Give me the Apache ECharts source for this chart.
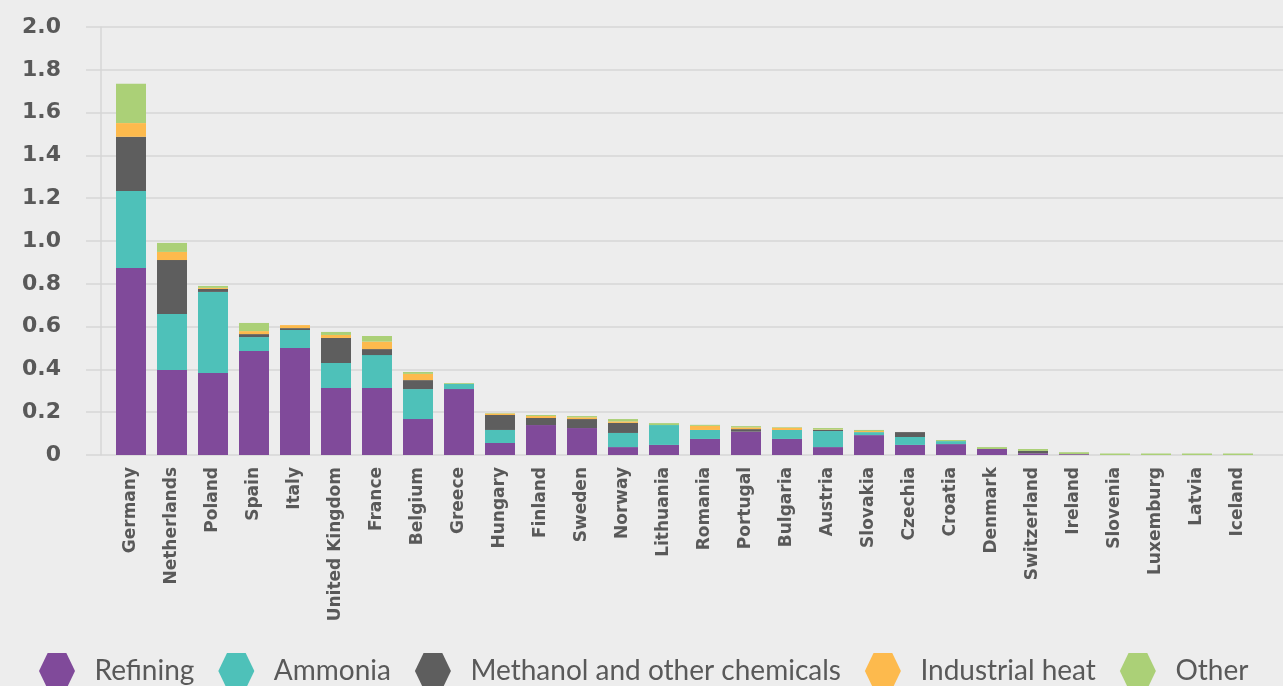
<!DOCTYPE html>
<html>
<head>
<meta charset="utf-8">
<script src="https://cdn.jsdelivr.net/npm/echarts@6/dist/echarts.min.js"></script>
<style>
  html, body { margin: 0; padding: 0; background: #ededed; }
  #main { width: 1283px; height: 686px; }
</style>
</head>
<body>
<div id="main"></div>
<script>
// countries, left to right
var countries = ['Germany', 'Netherlands', 'Poland', 'Spain', 'Italy', 'United Kingdom', 'France',
  'Belgium', 'Greece', 'Hungary', 'Finland', 'Sweden', 'Norway', 'Lithuania', 'Romania', 'Portugal',
  'Bulgaria', 'Austria', 'Slovakia', 'Czechia', 'Croatia', 'Denmark', 'Switzerland', 'Ireland',
  'Slovenia', 'Luxemburg', 'Latvia', 'Iceland'];

// values
var refining = [0.874, 0.397, 0.383, 0.486, 0.500, 0.313, 0.313, 0.168, 0.308, 0.056, 0.140, 0.126, 0.037, 0.047,
  0.075, 0.109, 0.075, 0.037, 0.093, 0.047, 0.051, 0.028, 0.008, 0.004, 0, 0, 0, 0];
var ammonia = [0.360, 0.262, 0.379, 0.065, 0.084, 0.117, 0.154, 0.140, 0.024, 0.061, 0, 0, 0.066, 0.093,
  0.042, 0, 0.042, 0.075, 0.014, 0.037, 0.014, 0, 0, 0, 0, 0, 0, 0];
var methanol = [0.253, 0.252, 0.014, 0.014, 0.009, 0.117, 0.028, 0.042, 0, 0.070, 0.033, 0.042, 0.047, 0,
  0, 0.012, 0, 0.005, 0, 0.023, 0, 0, 0.011, 0, 0, 0, 0, 0];
var industrialHeat = [0.064, 0.038, 0.005, 0.014, 0.014, 0.014, 0.035, 0.029, 0, 0.007, 0.009, 0.008, 0.007, 0,
  0.019, 0.008, 0.010, 0.002, 0.005, 0, 0, 0, 0, 0, 0, 0, 0, 0];
var other = [0.184, 0.042, 0.009, 0.038, 0, 0.014, 0.026, 0.009, 0.004, 0.002, 0.005, 0.006, 0.011, 0.009,
  0.005, 0.006, 0.003, 0.007, 0.005, 0, 0.005, 0.009, 0.009, 0.009, 0.007, 0.007, 0.007, 0.007];

var seriesNames = ['Refining', 'Ammonia', 'Methanol and other chemicals', 'Industrial heat', 'Other'];
var seriesColors = ['#804a9a', '#4ec1b9', '#5e5e5e', '#fdba4d', '#abd077'];
var seriesData = [refining, ammonia, methanol, industrialHeat, other];

var textColor = '#595959';
var lineColor = '#d6d6d6';
var hexagon = 'path://M0,50 L24,0 L76,0 L100,50 L76,100 L24,100 Z';

var chart = echarts.init(document.getElementById('main'));

var series = seriesNames.map(function (name, i) {
  return {
    name: name,
    type: 'bar',
    stack: 'total',
    xAxisIndex: 1,
    yAxisIndex: 1,
    barWidth: 30,
    itemStyle: { color: seriesColors[i] },
    data: seriesData[i]
  };
});

chart.setOption({
  backgroundColor: '#ededed',
  animation: false,
  grid: [
    // background grid: gridlines and y labels
    { left: 86, right: 0, top: 27, bottom: 231 },
    // bars
    { left: 110.5, right: 24.5, top: 27, bottom: 231 }
  ],
  legend: {
    left: 34,
    top: 648,
    icon: hexagon,
    itemWidth: 39,
    itemHeight: 36,
    itemGap: 24,
    textStyle: {
      fontFamily: 'Lato',
      fontSize: 28,
      color: textColor,
      padding: [0, 0, 0, 13]
    },
    data: seriesNames
  },
  xAxis: [
    { gridIndex: 0, type: 'value', show: false },
    {
      gridIndex: 1,
      type: 'category',
      data: countries,
      axisLine: { show: false },
      axisTick: { show: false },
      axisLabel: {
        interval: 0,
        rotate: 90,
        margin: 12,
        fontFamily: 'DejaVu Sans',
        fontWeight: 'bold',
        fontSize: 17,
        color: textColor
      }
    }
  ],
  yAxis: [
    {
      gridIndex: 0,
      type: 'value',
      min: 0,
      max: 2,
      interval: 0.2,
      axisLine: { show: false },
      axisTick: { show: false },
      splitLine: { lineStyle: { color: lineColor, width: 1.5 } },
      axisLabel: {
        margin: 25,
        fontFamily: 'DejaVu Sans',
        fontWeight: 'bold',
        fontSize: 22,
        color: textColor,
        formatter: function (v) { return v === 0 ? '0' : v.toFixed(1); }
      }
    },
    {
      gridIndex: 1,
      type: 'value',
      min: 0,
      max: 2,
      interval: 0.2,
      offset: 10,
      axisLine: { show: true, lineStyle: { color: lineColor, width: 1.5 } },
      axisTick: { show: false },
      axisLabel: { show: false },
      splitLine: { show: false }
    }
  ],
  series: series
});
</script>
</body>
</html>
